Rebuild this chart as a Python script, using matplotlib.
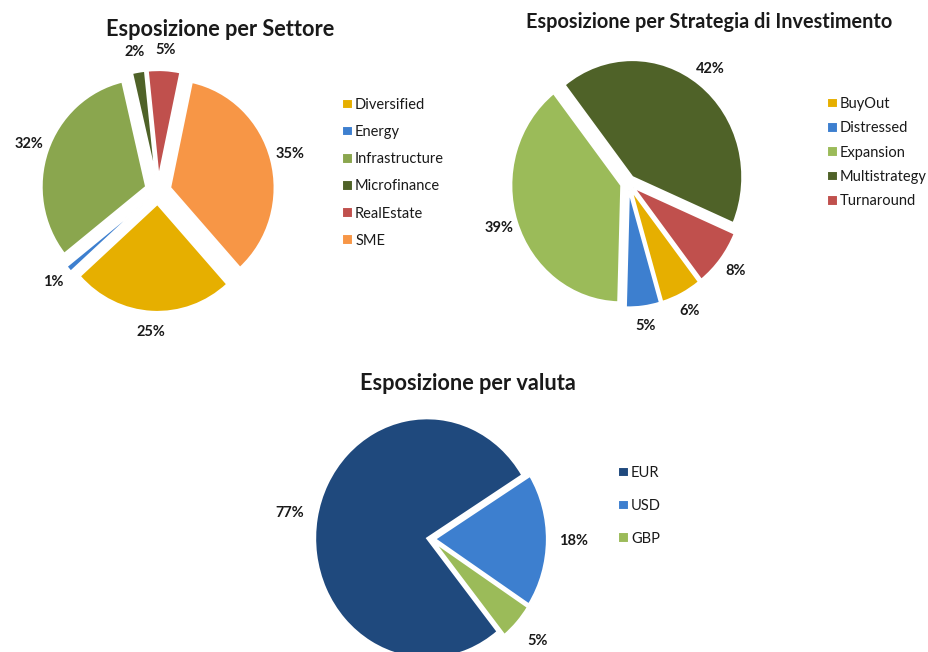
import matplotlib
matplotlib.use("Agg")
import matplotlib.pyplot as plt

plt.rcParams['font.family'] = ['Lato', 'DejaVu Sans']

# data
settore_labels = ['Diversified', 'Energy', 'Infrastructure', 'Microfinance', 'RealEstate', 'SME']
settore_values = [25, 1, 32, 2, 5, 35]
settore_colors = ['#E6AF00', '#3D7FCF', '#8AA64E', '#4F6228', '#C0504D', '#F79646']

strategia_labels = ['BuyOut', 'Distressed', 'Expansion', 'Multistrategy', 'Turnaround']
strategia_values = [6, 5, 39, 42, 8]
strategia_colors = ['#E6AF00', '#3D7FCF', '#9BBB59', '#4F6228', '#C0504D']

valuta_labels = ['EUR', 'USD', 'GBP']
valuta_values = [77, 18, 5]
valuta_colors = ['#1F497D', '#3D7FCF', '#9BBB59']

W, H = 929, 652
fig = plt.figure(figsize=(W / 100, H / 100), dpi=100)
TXT = '#1a1a1a'


def pie_axes(cx, cy, r, rv, L=1.6):
    # axes whose data unit = r px horizontally and rv px vertically, pie centre at (cx, cy) px from top
    ax = fig.add_axes([(cx - L * r) / W, (H - cy - L * rv) / H, 2 * L * r / W, 2 * L * rv / H])
    return ax, L


def draw_pie(ax, L, values, colors, start, explode, pctdist):
    wedges, _, autotexts = ax.pie(values, colors=colors, startangle=start, counterclock=False,
                                  explode=explode, autopct='%.0f%%', pctdistance=pctdist,
                                  wedgeprops=dict(edgecolor='white', linewidth=1.5),
                                  textprops=dict(fontsize=10.5, fontweight='bold', color=TXT))
    ax.set_aspect('auto')
    ax.set_xlim(-L, L)
    ax.set_ylim(-L, L)
    ax.axis('off')
    return wedges


def legend(ax, wedges, labels, x, y, spacing):
    ax.legend(wedges, labels, loc='upper left', bbox_to_anchor=(x / W, 1 - y / H),
              bbox_transform=fig.transFigure, frameon=False, fontsize=10.5,
              handlelength=0.75, handleheight=0.75, handletextpad=0.15,
              labelspacing=spacing, borderpad=0, borderaxespad=0, labelcolor=TXT)


# Esposizione per Settore
ax1, L1 = pie_axes(158, 191, 104.5, 108)
w1 = draw_pie(ax1, L1, settore_values, settore_colors, -48, [0.12] * 6, 1.19)
legend(ax1, w1, settore_labels, 342, 98, 0.9)
fig.text(220 / W, 1 - 35.7 / H, 'Esposizione per Settore', ha='center', va='baseline',
         fontsize=15.7, fontweight='bold', color=TXT)

# Esposizione per Strategia di Investimento
ax2, L2 = pie_axes(628, 183, 110, 117)
w2 = draw_pie(ax2, L2, strategia_values, strategia_colors, -52, [0.064] * 5, 1.17)
legend(ax2, w2, strategia_labels, 827, 97, 0.71)
fig.text(709 / W, 1 - 28.3 / H, 'Esposizione per Strategia di Investimento', ha='center', va='baseline',
         fontsize=14.3, fontweight='bold', color=TXT)

# Esposizione per valuta
ax3, L3 = pie_axes(431, 539, 112, 120)
w3 = draw_pie(ax3, L3, valuta_values, valuta_colors, -51, [0.035] * 3, 1.24)
legend(ax3, w3, valuta_labels, 618, 466, 1.3)
fig.text(468 / W, 1 - 390 / H, 'Esposizione per valuta', ha='center', va='baseline',
         fontsize=15.7, fontweight='bold', color=TXT)

fig.savefig('out.png', dpi=100)
